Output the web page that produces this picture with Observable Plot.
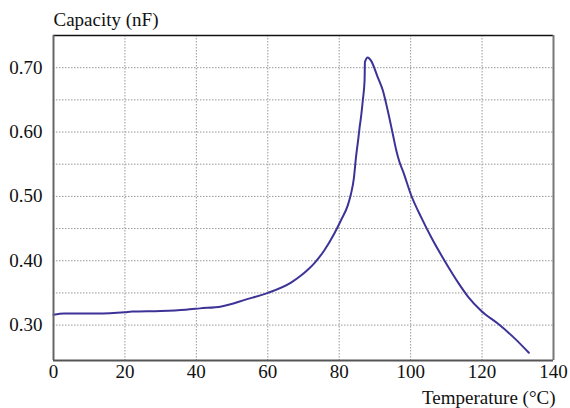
<!DOCTYPE html>
<html>
<head>
<meta charset="utf-8">
<script src="https://cdn.jsdelivr.net/npm/d3@7"></script>
<script src="https://cdn.jsdelivr.net/npm/@observablehq/plot@0.6"></script>
<style>
  html, body { margin: 0; padding: 0; background: #fff; }
</style>
</head>
<body>
<div id="chart"></div>
<script>
const temperature = [0, 3, 12, 20, 22, 30, 37, 41, 47, 54, 60, 66.5, 69.3, 71.2, 73, 75.8, 78.6, 80.5, 82.4, 83.3, 84.1, 84.7, 85.4, 85.7, 86.1, 86.6, 87.1, 87.2, 88.0, 88.9, 90.8, 92.2, 93.6, 95.0, 96.0, 96.9, 97.8, 100.2, 103.0, 105.8, 109.5, 113.3, 116.1, 119.8, 124.5, 129.2, 133.1];
const capacity = [0.316, 0.318, 0.318, 0.320, 0.321, 0.322, 0.324, 0.326, 0.329, 0.340, 0.350, 0.366, 0.377, 0.386, 0.396, 0.416, 0.442, 0.463, 0.486, 0.504, 0.528, 0.561, 0.592, 0.607, 0.623, 0.649, 0.680, 0.709, 0.716, 0.711, 0.685, 0.665, 0.633, 0.597, 0.571, 0.553, 0.540, 0.501, 0.467, 0.436, 0.400, 0.366, 0.344, 0.322, 0.302, 0.279, 0.257];
const xTicks = [0, 20, 40, 60, 80, 100, 120, 140];
const yTicks = [0.30, 0.40, 0.50, 0.60, 0.70];
const yGrid = [0.30, 0.35, 0.40, 0.45, 0.50, 0.55, 0.60, 0.65, 0.70];
const xTitle = "Temperature (°C)";
const yTitle = "Capacity (nF)";

const data = temperature.map((t, i) => ({t, c: capacity[i]}));

const chart = Plot.plot({
  width: 570,
  height: 408,
  marginLeft: 53,
  marginRight: 17,
  marginTop: 35,
  marginBottom: 48,
  style: {fontFamily: "'Liberation Serif', 'Times New Roman', serif", fontSize: "19px", background: "#fff", color: "#111"},
  x: {domain: [0, 140], label: null},
  y: {domain: [0.245, 0.75], label: null},
  marks: [
    Plot.gridX(xTicks, {stroke: "#999", strokeOpacity: 1, strokeDasharray: "1.5,1.5", strokeWidth: 1}),
    Plot.gridY(yGrid, {stroke: "#999", strokeOpacity: 1, strokeDasharray: "1.5,1.5", strokeWidth: 1}),
    Plot.axisX(xTicks, {tickSize: 0, tickPadding: 4, label: null, tickFormat: d3.format("d"), fill: "#111"}),
    Plot.axisY(yTicks, {tickSize: 0, tickPadding: 11, label: null, tickFormat: d3.format(".2f"), fill: "#111"}),
    Plot.line(data, {x: "t", y: "c", stroke: "#3d3397", strokeWidth: 2, curve: "monotone-x"}),
    Plot.ruleY([0.75], {stroke: "#111", strokeWidth: 1.5}),
    Plot.ruleX([0], {stroke: "#666", strokeWidth: 2}),
    Plot.ruleX([140], {stroke: "#777", strokeWidth: 2}),
    Plot.ruleY([0.245], {stroke: "#555", strokeWidth: 2}),
    Plot.text([yTitle], {frameAnchor: "top-left", textAnchor: "start", lineAnchor: "bottom", dy: -10, fill: "#111"}),
    Plot.text([xTitle], {frameAnchor: "bottom-right", textAnchor: "end", lineAnchor: "bottom", dy: 43, dx: 2, fill: "#111"})
  ]
});
document.getElementById("chart").appendChild(chart);
</script>
</body>
</html>
